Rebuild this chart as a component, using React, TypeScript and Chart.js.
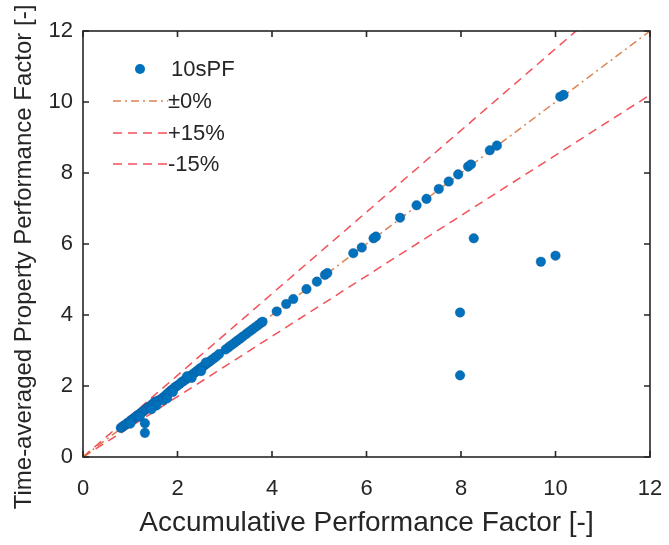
import React, { useEffect, useRef } from "react";
import { Chart, registerables } from "chart.js";
Chart.register(...registerables);

// Accumulative Performance Factor (x) and Time-averaged Property Performance Factor (y)
const accumulativePF = [
  0.80, 0.83, 0.86, 0.90, 0.93, 0.96, 1.00, 1.03, 1.06, 1.10, 1.13, 1.16, 1.20, 1.23, 1.26, 1.30,
  1.33, 1.36, 1.40, 1.44, 1.48, 1.52, 1.56, 1.60, 1.64, 1.68, 1.72, 1.76, 1.80, 1.84, 1.88, 1.92,
  1.96, 2.00, 2.05, 2.10, 2.14, 2.18, 2.22, 2.27, 2.32, 2.37, 2.42, 2.47, 2.52, 2.57, 2.62, 2.67,
  2.72, 2.77, 2.82, 2.88, 3.02, 3.08, 3.14, 3.20, 3.26, 3.32, 3.38, 3.45, 3.52, 3.58, 3.64, 3.70,
  3.76, 3.80, 1.70, 1.78, 1.55, 1.45, 1.90, 2.30, 2.50, 2.60, 2.20, 1.20, 1.00,
  4.10, 4.30, 4.45, 4.73, 4.95, 5.12, 5.17, 5.72, 5.90, 6.15, 6.20, 6.71, 7.06, 7.27, 7.53, 7.74,
  7.94, 8.15, 8.21, 8.61, 8.76, 10.10, 10.17,
  1.31, 1.31, 7.98, 7.98, 8.27, 9.69, 10.00,
];
const timeAveragedPF = [
  0.82, 0.84, 0.88, 0.91, 0.95, 0.97, 1.01, 1.05, 1.07, 1.12, 1.14, 1.18, 1.21, 1.25, 1.27, 1.31,
  1.35, 1.38, 1.42, 1.45, 1.50, 1.55, 1.57, 1.59, 1.62, 1.66, 1.70, 1.75, 1.80, 1.85, 1.89, 1.93,
  1.98, 2.01, 2.06, 2.12, 2.15, 2.19, 2.24, 2.28, 2.33, 2.38, 2.43, 2.49, 2.53, 2.58, 2.63, 2.68,
  2.73, 2.78, 2.83, 2.90, 3.03, 3.09, 3.15, 3.21, 3.27, 3.33, 3.39, 3.46, 3.53, 3.59, 3.65, 3.71,
  3.77, 3.81, 1.60, 1.65, 1.45, 1.35, 1.83, 2.23, 2.42, 2.66, 2.27, 1.14, 0.94,
  4.10, 4.31, 4.45, 4.73, 4.94, 5.13, 5.18, 5.74, 5.90, 6.16, 6.21, 6.74, 7.09, 7.27, 7.55, 7.76,
  7.96, 8.18, 8.24, 8.64, 8.77, 10.15, 10.20,
  0.95, 0.68, 4.07, 2.30, 6.16, 5.50, 5.67,
];

const axisTicks = [0, 2, 4, 6, 8, 10, 12];
const refLineX = [0, 12];
const refRatios = [1.0, 1.15, 0.85];
const legendLabels = ["10sPF", "±0%", "+15%", "-15%"];
const xTitle = "Accumulative Performance Factor [-]";
const yTitle = "Time-averaged Property Performance Factor [-]";

const FONT = '"Liberation Sans", Arial, Helvetica, sans-serif';
const BLUE = "#0072BD";
const ORANGE = "rgba(215,110,50,0.85)";
const RED = "rgba(240,50,60,0.85)";
const TXT = "#262626";

const overlayPlugin = {
  id: "overlay",
  afterDatasetsDraw(chart: any) {
    const { ctx, chartArea, scales } = chart;
    const { left, right, top, bottom } = chartArea;
    const xs = scales.x;
    const ys = scales.y;
    ctx.save();
    // box
    ctx.strokeStyle = TXT;
    ctx.lineWidth = 1.6;
    ctx.setLineDash([]);
    ctx.strokeRect(left, top, right - left, bottom - top);
    // inward ticks
    const tl = 6;
    ctx.beginPath();
    axisTicks.forEach((v) => {
      const px = xs.getPixelForValue(v);
      ctx.moveTo(px, bottom);
      ctx.lineTo(px, bottom - tl);
      ctx.moveTo(px, top);
      ctx.lineTo(px, top + tl);
      const py = ys.getPixelForValue(v);
      ctx.moveTo(left, py);
      ctx.lineTo(left + tl, py);
      ctx.moveTo(right, py);
      ctx.lineTo(right - tl, py);
    });
    ctx.stroke();

    // legend
    ctx.font = `22px ${FONT}`;
    ctx.textAlign = "left";
    ctx.textBaseline = "middle";
    const rows = [69, 101, 133, 164];
    const lx0 = 113;
    const lx1 = 168;
    ctx.fillStyle = BLUE;
    ctx.beginPath();
    ctx.arc(140, rows[0], 5, 0, Math.PI * 2);
    ctx.fill();
    ctx.lineWidth = 1.5;
    const styles = [
      { c: ORANGE, d: [8, 4, 2, 4] },
      { c: RED, d: [9, 6] },
      { c: RED, d: [9, 6] },
    ];
    styles.forEach((s, i) => {
      ctx.strokeStyle = s.c;
      ctx.setLineDash(s.d);
      ctx.beginPath();
      ctx.moveTo(lx0, rows[i + 1]);
      ctx.lineTo(lx1, rows[i + 1]);
      ctx.stroke();
    });
    ctx.setLineDash([]);
    ctx.fillStyle = TXT;
    ctx.fillText(legendLabels[0], 171, rows[0] + 1);
    for (let i = 1; i < 4; i++) ctx.fillText(legendLabels[i], 168, rows[i] + 1);

    // y title
    ctx.translate(24, 257);
    ctx.rotate(-Math.PI / 2);
    ctx.font = `24px ${FONT}`;
    ctx.textAlign = "center";
    ctx.fillText(yTitle, 0, 0);
    ctx.restore();
  },
};

export default function App() {
  const ref = useRef<HTMLCanvasElement | null>(null);
  useEffect(() => {
    document.body.style.margin = "0";
    const canvas = ref.current!;
    const refData = refRatios.map((r) => refLineX.map((x) => ({ x, y: x * r })));
    const chart = new Chart(canvas, {
      type: "scatter",
      data: {
        datasets: [
          {
            label: legendLabels[0],
            data: accumulativePF.map((x, i) => ({ x, y: timeAveragedPF[i] })),
            backgroundColor: BLUE,
            borderColor: "rgba(20,80,140,0.6)",
            borderWidth: 0.6,
            pointRadius: 4.8,
            order: 0,
          },
          {
            label: legendLabels[1],
            data: refData[0],
            showLine: true,
            borderColor: ORANGE,
            borderWidth: 1.5,
            borderDash: [8, 4, 2, 4],
            pointRadius: 0,
            order: 1,
          },
          {
            label: legendLabels[2],
            data: refData[1],
            showLine: true,
            borderColor: RED,
            borderWidth: 1.5,
            borderDash: [9, 6],
            pointRadius: 0,
            order: 2,
          },
          {
            label: legendLabels[3],
            data: refData[2],
            showLine: true,
            borderColor: RED,
            borderWidth: 1.5,
            borderDash: [9, 6],
            pointRadius: 0,
            order: 3,
          },
        ],
      },
      options: {
        animation: false,
        responsive: false,
        devicePixelRatio: 1,
        layout: { padding: { left: 0, top: 31, right: 19, bottom: 0 } },
        plugins: { legend: { display: false }, tooltip: { enabled: false } },
        scales: {
          x: {
            type: "linear",
            min: 0,
            max: 12,
            afterBuildTicks: (s: any) => {
              s.ticks = axisTicks.map((v) => ({ value: v }));
            },
            afterFit: (s: any) => {
              s.height = 88;
              s.paddingLeft = 0;
              s.paddingRight = 0;
            },
            grid: { display: false, drawTicks: false },
            border: { display: false },
            ticks: { color: TXT, font: { size: 22, family: FONT }, padding: 19, maxRotation: 0 },
            title: {
              display: true,
              text: xTitle,
              color: TXT,
              font: { size: 28, family: FONT },
              padding: { top: 0, bottom: 5 },
            },
          },
          y: {
            type: "linear",
            min: 0,
            max: 12,
            afterBuildTicks: (s: any) => {
              s.ticks = axisTicks.map((v) => ({ value: v }));
            },
            afterFit: (s: any) => {
              s.width = 83;
              s.paddingTop = 0;
              s.paddingBottom = 0;
            },
            grid: { display: false, drawTicks: false },
            border: { display: false },
            ticks: { color: TXT, font: { size: 22, family: FONT }, padding: 10 },
            title: { display: false },
          },
        },
      },
      plugins: [overlayPlugin],
    });
    return () => chart.destroy();
  }, []);
  return (
    <div style={{ width: 669, height: 545, background: "#fff" }}>
      <canvas ref={ref} width={669} height={545} style={{ display: "block" }} />
    </div>
  );
}
